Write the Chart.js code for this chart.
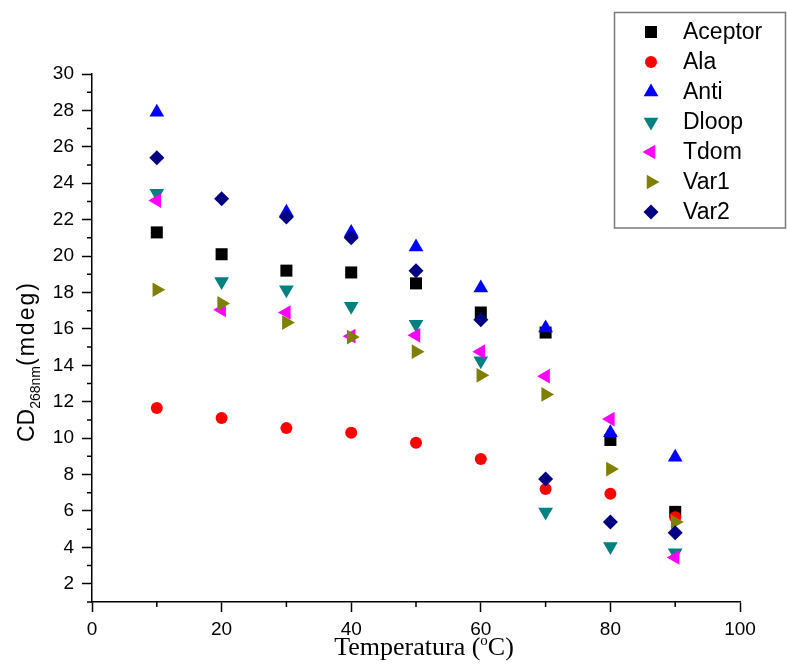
<!DOCTYPE html>
<html><head><meta charset="utf-8">
<script src="https://cdn.jsdelivr.net/npm/chart.js@4/dist/chart.umd.min.js"></script>
<style>html,body{margin:0;padding:0;background:#fff}canvas{display:block}</style>
</head><body>
<canvas id="c" width="787" height="670"></canvas>
<script>
// ---- data ----
const temperatures = [10, 20, 30, 40, 50, 60, 70, 80, 90];
const aceptor = [21.3, 20.1, 19.2, 19.1, 18.5, 16.9, 15.8, 9.9, 5.95];
const ala     = [11.65, 11.1, 10.55, 10.3, 9.75, 8.85, 7.2, 6.95, 5.65];
const anti    = [27.9, null, 22.4, 21.3, 20.5, 18.25, 16.05, 10.3, 8.95];
const dloop   = [23.45, 18.6, 18.15, 17.25, 16.25, 14.25, 5.95, 4.05, 3.7];
const tdom    = [23.05, 17.05, 16.9, 15.6, 15.65, 14.75, 13.4, 11.05, 3.45];
const var1    = [18.15, 17.4, 16.35, 15.55, 14.75, 13.45, 12.4, 8.3, 5.4];
const var2    = [25.4, 23.15, 22.15, 21.0, 19.2, 16.5, 7.75, 5.4, 4.8];
const seriesNames = ['Aceptor', 'Ala', 'Anti', 'Dloop', 'Tdom', 'Var1', 'Var2'];
const seriesValues = [aceptor, ala, anti, dloop, tdom, var1, var2];
const yMajorTicks = [2, 4, 6, 8, 10, 12, 14, 16, 18, 20, 22, 24, 26, 28, 30];
const yMinorTicks = [1, 3, 5, 7, 9, 11, 13, 15, 17, 19, 21, 23, 25, 27, 29];
const xMajorTicks = [0, 20, 40, 60, 80, 100];
const xMinorTicks = [10, 30, 50, 70, 90];
const xTitle = ['Temperatura (', 'o', 'C)'];
const yTitle = ['CD', '268nm', '(mdeg)'];

// ---- styles ----
const markerStyles = [
  {color: '#000000', pointStyle: 'rect', rotation: 0, radius: 8.5},
  {color: '#ff0000', pointStyle: 'circle', rotation: 0, radius: 6},
  {color: '#0000ff', pointStyle: 'triangle', rotation: 0, radius: 8.5},
  {color: '#008080', pointStyle: 'triangle', rotation: 180, radius: 8.5},
  {color: '#ff00ff', pointStyle: 'triangle', rotation: 270, radius: 8.5},
  {color: '#808000', pointStyle: 'triangle', rotation: 90, radius: 8.5},
  {color: '#000080', pointStyle: 'rectRot', rotation: 0, radius: 7.5}
];
const SANS = '"Liberation Sans", Arial, sans-serif';
const SERIF = '"Liberation Serif", "Times New Roman", serif';

const datasets = seriesNames.map((name, i) => ({
  label: name,
  data: temperatures.map((t, j) => ({x: t, y: seriesValues[i][j]})),
  backgroundColor: markerStyles[i].color,
  borderColor: markerStyles[i].color,
  borderWidth: 0,
  pointStyle: markerStyles[i].pointStyle,
  rotation: markerStyles[i].rotation,
  pointRadius: markerStyles[i].radius,
  pointHoverRadius: markerStyles[i].radius,
  order: seriesNames.length - i,
  showLine: false
}));

function drawMarker(ctx, st, x, y) {
  const opts = {pointStyle: st.pointStyle, rotation: st.rotation, radius: st.radius, borderWidth: 0};
  ctx.save();
  ctx.fillStyle = st.color;
  ctx.strokeStyle = st.color;
  if (Chart.helpers && Chart.helpers.drawPoint) {
    Chart.helpers.drawPoint(ctx, opts, x, y);
  } else {
    ctx.beginPath(); ctx.arc(x, y, st.radius, 0, Math.PI * 2); ctx.fill();
  }
  ctx.restore();
}

const extras = {
  id: 'extras',
  afterDraw(chart) {
    const ctx = chart.ctx;
    const xs = chart.scales.x, ys = chart.scales.y;
    ctx.save();
    // minor ticks
    ctx.strokeStyle = '#000'; ctx.lineWidth = 1.5;
    ctx.beginPath();
    yMinorTicks.forEach(v => { const p = ys.getPixelForValue(v); ctx.moveTo(xs.left - 5, p); ctx.lineTo(xs.left, p); });
    xMinorTicks.forEach(v => { const p = xs.getPixelForValue(v); ctx.moveTo(p, ys.bottom); ctx.lineTo(p, ys.bottom + 5); });
    ctx.stroke();
    // x title
    ctx.fillStyle = '#000';
    ctx.textBaseline = 'alphabetic'; ctx.textAlign = 'left';
    const big = '26px ' + SERIF, small = '15px ' + SERIF;
    ctx.font = big; const w1 = ctx.measureText(xTitle[0]).width;
    ctx.font = small; const w2 = ctx.measureText(xTitle[1]).width;
    ctx.font = big; const w3 = ctx.measureText(xTitle[2]).width;
    let x0 = (xs.left + xs.right) / 2 + 8 - (w1 + w2 + w3) / 2;
    const by = 655;
    ctx.font = big; ctx.fillText(xTitle[0], x0, by);
    ctx.font = small; ctx.fillText(xTitle[1], x0 + w1, by - 10);
    ctx.font = big; ctx.fillText(xTitle[2], x0 + w1 + w2, by);
    // y title (rotated)
    ctx.save();
    ctx.translate(34, 442);
    ctx.rotate(-Math.PI / 2);
    ctx.font = '23px ' + SANS; ctx.fillText(yTitle[0], 0, 0);
    const c1 = ctx.measureText(yTitle[0]).width;
    ctx.font = '14px ' + SANS; ctx.fillText(yTitle[1], c1, 6);
    const c2 = ctx.measureText(yTitle[1]).width;
    ctx.font = '23px ' + SANS;
    if ('letterSpacing' in ctx) ctx.letterSpacing = '2px';
    ctx.fillText(yTitle[2], c1 + c2, 0);
    if ('letterSpacing' in ctx) ctx.letterSpacing = '0px';
    ctx.restore();
    // legend box
    ctx.fillStyle = '#fff';
    ctx.fillRect(614, 12, 172, 216);
    ctx.strokeStyle = '#7a7a7a'; ctx.lineWidth = 1.5;
    ctx.strokeRect(614.5, 12.5, 171, 215.5);
    ctx.font = '23px ' + SANS; ctx.textBaseline = 'middle'; ctx.fillStyle = '#000';
    seriesNames.forEach((name, i) => {
      const cy = 32 + i * 30;
      drawMarker(ctx, markerStyles[i], 651, cy);
      ctx.fillStyle = '#000';
      ctx.fillText(name, 683, cy + 1);
    });
    ctx.restore();
  }
};

new Chart(document.getElementById('c'), {
  type: 'scatter',
  data: {datasets},
  plugins: [extras],
  options: {
    responsive: false,
    animation: false,
    layout: {padding: {left: 0, top: 74, right: 47, bottom: 0}},
    plugins: {legend: {display: false}, tooltip: {enabled: false}, title: {display: false}},
    scales: {
      x: {
        type: 'linear', min: 0, max: 100,
        afterBuildTicks: s => { s.ticks = xMajorTicks.map(v => ({value: v})); },
        afterFit: s => { s.height = 68; },
        ticks: {color: '#000', font: {family: SANS, size: 19}, padding: 6, maxRotation: 0, autoSkip: false},
        grid: {drawOnChartArea: false, drawTicks: true, tickLength: 10, tickColor: '#000', tickWidth: 1.5},
        border: {display: true, color: '#000', width: 1.5}
      },
      y: {
        type: 'linear', min: 1, max: 30,
        afterBuildTicks: s => { s.ticks = yMajorTicks.map(v => ({value: v})); },
        afterFit: s => { s.width = 92; },
        ticks: {color: '#000', font: {family: SANS, size: 19}, padding: 8, autoSkip: false},
        grid: {drawOnChartArea: false, drawTicks: true, tickLength: 10, tickColor: '#000', tickWidth: 1.5},
        border: {display: true, color: '#000', width: 1.5}
      }
    }
  }
});
</script>
</body></html>
